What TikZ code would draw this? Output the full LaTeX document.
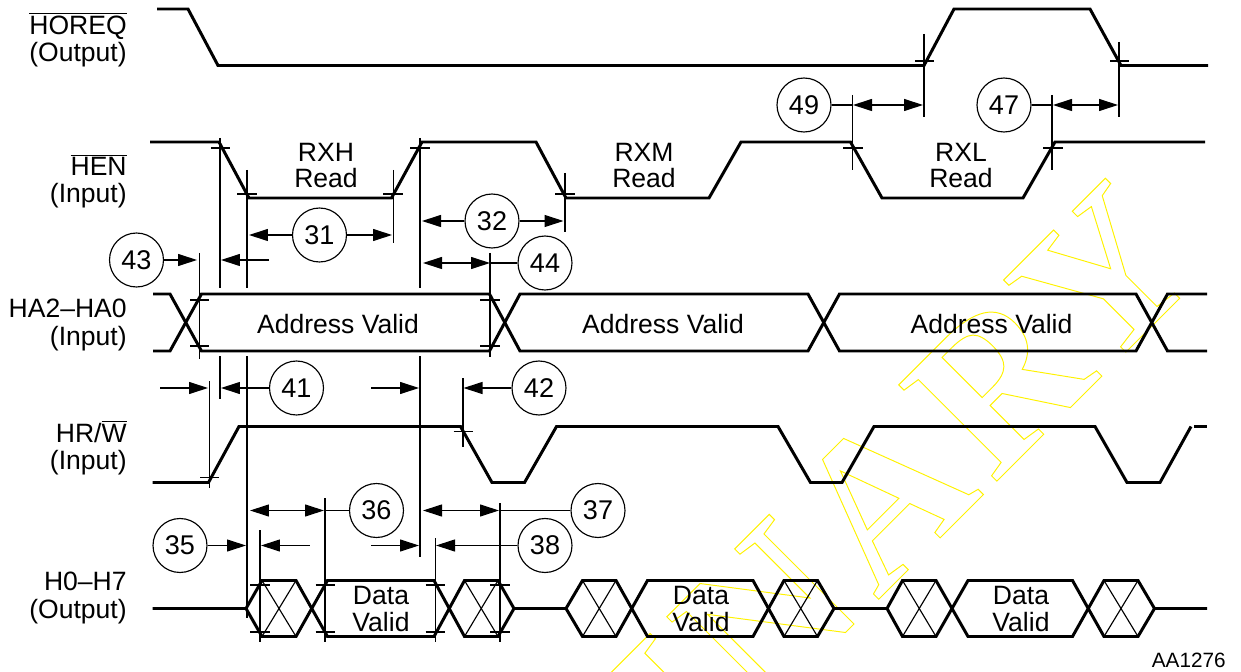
\documentclass[tikz,border=0pt]{standalone}
\usepackage{fontspec}
\setmainfont{Liberation Sans}
\newfontfamily\stampfont[LetterSpace=6]{Liberation Serif Bold}
\usetikzlibrary{arrows.meta}
\newcommand{\ovl}[1]{$\overline{\mbox{#1}}$}

\begin{document}
\begin{tikzpicture}[x=0.02cm,y=-0.02cm]
        %
        % `wave' is used for the signals, `ext' for extension lines and ticks.
        % `dim' and `dimboth' are the timing arrows, `num' the circled numbers.
        \tikzstyle{wave} = [line width=1.7pt,line join=miter]
        \tikzstyle{ext} = [line width=0.65pt]
        \tikzstyle{dim} = [line width=0.65pt,-{Triangle[length=0.38cm,width=0.24cm]}]
        \tikzstyle{dimboth} = [line width=0.65pt,{Triangle[length=0.38cm,width=0.24cm]}-{Triangle[length=0.38cm,width=0.24cm]}]
        \tikzstyle{num} = [draw,line width=0.65pt,shape=circle,minimum size=1.08cm,inner sep=0pt,font=\fontsize{15.4}{15.4}\selectfont]
        \tikzstyle{sig} = [anchor=east,align=right,inner sep=0pt,font=\fontsize{15.1}{15.4}\selectfont]
        \tikzstyle{lab} = [align=center,inner sep=0pt,font=\fontsize{15.1}{15.3}\selectfont]
        %
        \useasboundingbox (0,0) rectangle (1241,672);
        %
        % Stamp behind the picture
        \begin{scope}
        \clip (0,0) rectangle (1241,672);
        \node[rotate=45,anchor=base west,inner sep=0pt,text=yellow] (stamp) at (47,1431)
            {\fontsize{119.5}{119.5}\selectfont\stampfont\special{pdf:code 1 Tr 0.55 w}PRELIMINAR\kern-2pt Y\special{pdf:code 0 Tr}};
        \end{scope}
        %
        % Signal names
        \node[sig] (horeq) at (127,40) {\ovl{HOREQ}\\(Output)};
        \node[sig] (hen) at (127,181) {\ovl{HEN}\\(Input)};
        \node[sig] (haddr) at (127,325) {HA2--HA0\\(Input)};
        \node[sig] (hrw) at (127,447.5) {HR/\ovl{W}\\(Input)};
        \node[sig] (hdata) at (127,598) {H0--H7\\(Output)};
        %
        % HOREQ
        \draw[wave] (157,9) -- (188,9) -- (218,65.5) -- (924,65.5) -- (954,9) -- (1090,9) -- (1121,65.5) -- (1208,65.5);
        \draw[ext] (924,34) -- (924,117);
        \draw[ext] (1119,42) -- (1119,117);
        \draw[ext] (915,61) -- (934,61);
        \draw[ext] (1110,61) -- (1129,61);
        %
        % HEN
        \draw[wave] (150,142) -- (219,142) -- (249,198) -- (391.5,198) -- (422,142) -- (536,142) -- (566,198) -- (709,198) -- (741,142) -- (850.5,142) -- (882,198) -- (1023,198) -- (1055,142) -- (1205,142);
        \node[lab] (rxh) at (326,165.5) {RXH\\Read};
        \node[lab] (rxm) at (644,165.5) {RXM\\Read};
        \node[lab] (rxl) at (961,165.5) {RXL\\Read};
        \draw[ext] (211,148) -- (230,148);
        \draw[ext] (237,194) -- (257,194);
        \draw[ext] (383,194) -- (403,194);
        \draw[ext] (410,148) -- (430,148);
        \draw[ext] (555,194) -- (575,194);
        \draw[ext] (843,148) -- (863,148);
        \draw[ext] (1043,148) -- (1063,148);
        %
        % Extension lines above the address bus
        \draw[ext] (220,138) -- (220,288);
        \draw[ext] (247,170) -- (247,288);
        \draw[ext] (393.5,170) -- (393.5,243);
        \draw[ext] (420,138) -- (420,288);
        \draw[ext] (565,173) -- (565,232);
        \draw[ext] (852.5,95) -- (852.5,170);
        \draw[ext] (1052,95) -- (1052,170);
        %
        % Timing 49 and 47
        \coordinate (a49l) at (853,105);
        \coordinate (a49r) at (923,105);
        \coordinate (a47l) at (1053,105);
        \coordinate (a47r) at (1118,105);
        \node[num] (n49) at (804,105) {49};
        \node[num] (n47) at (1004,105) {47};
        \draw[ext] (n49) -- (a49l);
        \draw[dimboth] (a49l) -- (a49r);
        \draw[ext] (n47) -- (a47l);
        \draw[dimboth] (a47l) -- (a47r);
        %
        % Timing 31, 32, 43, 44
        \coordinate (a31l) at (249,235);
        \coordinate (a31r) at (392,235);
        \coordinate (a32l) at (422,221);
        \coordinate (a32r) at (563.5,221);
        \coordinate (a43r) at (197,260);
        \coordinate (a43s) at (269,260);
        \coordinate (a43e) at (221,260);
        \coordinate (a44l) at (423,263);
        \coordinate (a44r) at (490,263);
        \node[num] (n31) at (319.5,235) {31};
        \node[num] (n32) at (492,221) {32};
        \node[num] (n43) at (136.5,260) {43};
        \node[num] (n44) at (545,263) {44};
        \draw[dim] (n31) -- (a31l);
        \draw[dim] (n31) -- (a31r);
        \draw[dim] (n32) -- (a32l);
        \draw[dim] (n32) -- (a32r);
        \draw[dim] (n43) -- (a43r);
        \draw[dim] (a43s) -- (a43e);
        \draw[dimboth] (a44l) -- (a44r);
        \draw[ext] (a44r) -- (n44);
        %
        % Address bus
        \draw[wave] (153,294) -- (170,294) -- (201.5,351) -- (489.5,351) -- (520,294) -- (808,294) -- (839.5,351) -- (1136,351) -- (1167.5,294) -- (1207,294);
        \draw[wave] (153,351) -- (170,351) -- (201.5,294) -- (489.5,294) -- (520,351) -- (808,351) -- (839.5,294) -- (1136,294) -- (1167.5,351) -- (1207,351);
        \node[lab] (addr1) at (338,324) {Address Valid};
        \node[lab] (addr2) at (663,324) {Address Valid};
        \node[lab] (addr3) at (991.5,324) {Address Valid};
        \draw[ext] (190,300) -- (209,300);
        \draw[ext] (190,346) -- (209,346);
        \draw[ext] (480,300) -- (500,300);
        \draw[ext] (480,346) -- (500,346);
        \draw[ext] (199.5,253) -- (199.5,359);
        \draw[ext] (490,253) -- (490,357);
        %
        % Timing 41, 42
        \coordinate (a41s) at (160,388);
        \coordinate (a41e) at (208,388);
        \coordinate (a41l) at (221,388);
        \coordinate (a42s) at (371,388);
        \coordinate (a42e) at (419,388);
        \coordinate (a42l) at (463.5,388);
        \node[num] (n41) at (296.5,388) {41};
        \node[num] (n42) at (539,388) {42};
        \draw[dim] (a41s) -- (a41e);
        \draw[dim] (n41) -- (a41l);
        \draw[dim] (a42s) -- (a42e);
        \draw[dim] (n42) -- (a42l);
        \draw[ext] (220,356) -- (220,399);
        \draw[ext] (247,356) -- (247,618);
        \draw[ext] (420,356) -- (420,557);
        %
        % HR/W
        \draw[wave] (152.5,482.5) -- (208.5,482.5) -- (239,426.5) -- (460.5,426.5) -- (492,482.5) -- (524.5,482.5) -- (556.5,426.5) -- (778,426.5) -- (810.5,482.5) -- (842,482.5) -- (874,426.5) -- (1095,426.5) -- (1127,482.5) -- (1160,482.5) -- (1191,426.5);
        \draw[wave] (1194,426.5) -- (1207,426.5);
        \draw[ext] (200,477.5) -- (219,477.5);
        \draw[ext] (453.5,431.5) -- (473,431.5);
        \draw[ext] (209.5,381) -- (209.5,488);
        \draw[ext] (463,378) -- (463,447);
        %
        % Timing 36, 37, 35, 38
        \coordinate (a36l) at (250,510.5);
        \coordinate (a36r) at (324,510.5);
        \coordinate (a37l) at (423,510.5);
        \coordinate (a37r) at (499,510.5);
        \coordinate (a35r) at (246,545.5);
        \coordinate (a35s) at (309.5,545.5);
        \coordinate (a35e) at (261,545.5);
        \coordinate (a38s) at (371,545.5);
        \coordinate (a38e) at (419,545.5);
        \coordinate (a38l) at (436,545.5);
        \node[num] (n36) at (376.5,510.5) {36};
        \node[num] (n37) at (598,510.5) {37};
        \node[num] (n35) at (180,545.5) {35};
        \node[num] (n38) at (545,545.5) {38};
        \draw[dimboth] (a36l) -- (a36r);
        \draw[ext] (a36r) -- (n36);
        \draw[dimboth] (a37l) -- (a37r);
        \draw[ext] (a37r) -- (n37);
        \draw[dim] (n35) -- (a35r);
        \draw[dim] (a35s) -- (a35e);
        \draw[dim] (a38s) -- (a38e);
        \draw[dim] (n38) -- (a38l);
        \draw[ext] (325,498) -- (325,642);
        \draw[ext] (500,503) -- (500,642);
        \draw[ext] (260,530) -- (260,642);
        \draw[ext] (435.5,538) -- (435.5,642);
        %
        % Data bus
        \draw[wave] (152.5,608.5) -- (246,608.5) -- (262,580.5) -- (296,580.5) -- (327.5,636.5) -- (434,636.5) -- (464.5,580.5) -- (498,580.5) -- (514,608.5) -- (566,608.5) -- (582.5,580.5) -- (616,580.5) -- (647.5,636.5) -- (753,636.5) -- (784,580.5) -- (817.5,580.5) -- (834,608.5) -- (887,608.5) -- (902.5,580.5) -- (936,580.5) -- (968,636.5) -- (1072.5,636.5) -- (1104,580.5) -- (1138,580.5) -- (1154.5,608.5) -- (1207,608.5);
        \draw[wave] (246,608.5) -- (262,636.5) -- (296,636.5) -- (327.5,580.5) -- (434,580.5) -- (464.5,636.5) -- (498,636.5) -- (514,608.5);
        \draw[wave] (566,608.5) -- (582.5,636.5) -- (616,636.5) -- (647.5,580.5) -- (753,580.5) -- (784,636.5) -- (817.5,636.5) -- (834,608.5);
        \draw[wave] (887,608.5) -- (902.5,636.5) -- (936,636.5) -- (968,580.5) -- (1072.5,580.5) -- (1104,636.5) -- (1138,636.5) -- (1154.5,608.5);
        \node[lab] (data1) at (381,609) {Data\\Valid};
        \node[lab] (data2) at (701,609) {Data\\Valid};
        \node[lab] (data3) at (1021,609) {Data\\Valid};
        % Crossed regions
        \draw[ext] (262,580.5) -- (296,636.5);
        \draw[ext] (296,580.5) -- (262,636.5);
        \draw[ext] (464.5,580.5) -- (498,636.5);
        \draw[ext] (498,580.5) -- (464.5,636.5);
        \draw[ext] (582.5,580.5) -- (616,636.5);
        \draw[ext] (616,580.5) -- (582.5,636.5);
        \draw[ext] (784,580.5) -- (817.5,636.5);
        \draw[ext] (817.5,580.5) -- (784,636.5);
        \draw[ext] (902.5,580.5) -- (936,636.5);
        \draw[ext] (936,580.5) -- (902.5,636.5);
        \draw[ext] (1104,580.5) -- (1138,636.5);
        \draw[ext] (1138,580.5) -- (1104,636.5);
        % Ticks
        \draw[ext] (250,585) -- (270,585);
        \draw[ext] (250,632) -- (270,632);
        \draw[ext] (315.5,585) -- (335,585);
        \draw[ext] (315.5,632) -- (335,632);
        \draw[ext] (425.5,585) -- (445,585);
        \draw[ext] (425.5,632) -- (445,632);
        \draw[ext] (490,585) -- (510,585);
        \draw[ext] (490,632) -- (510,632);
        %
        % Drawing number
        \node[anchor=east,inner sep=0pt,font=\fontsize{11.8}{11.8}\selectfont] (code) at (1226,660.5) {AA1276};
        %
        \end{tikzpicture}
\end{document}
